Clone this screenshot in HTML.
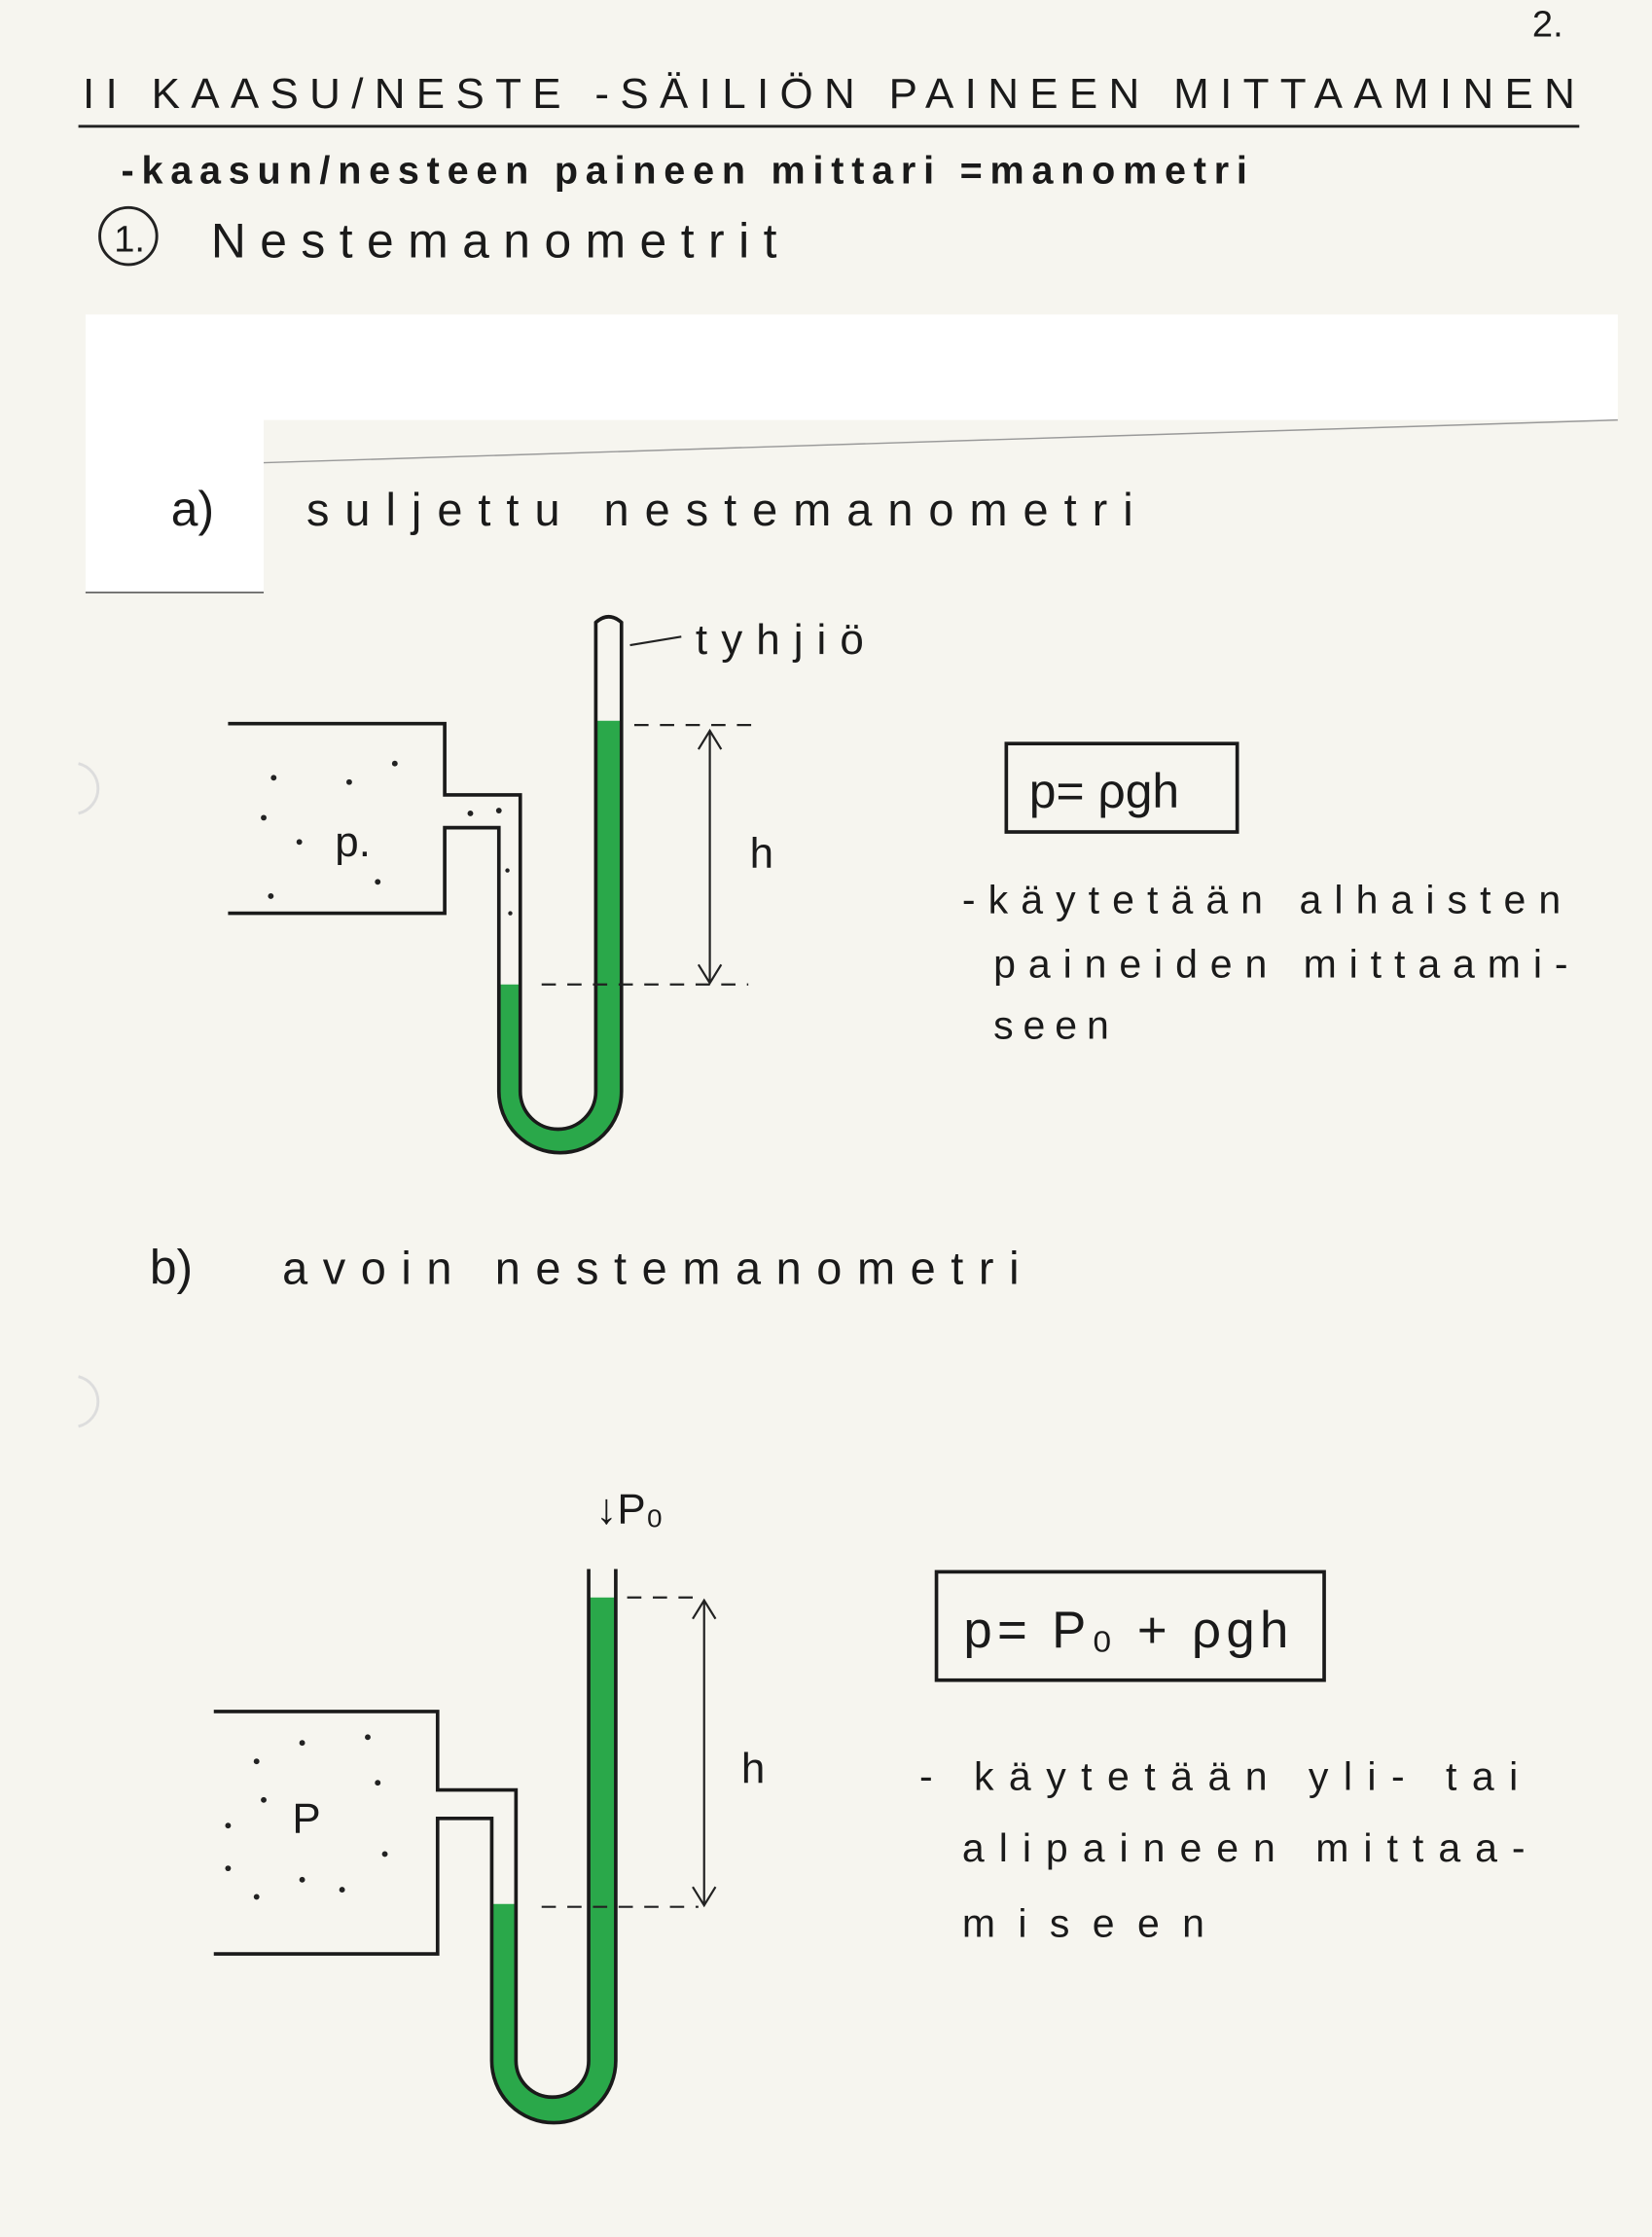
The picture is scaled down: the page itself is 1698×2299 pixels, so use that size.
<!DOCTYPE html>
<html><head><meta charset="utf-8"><style>
html,body{margin:0;padding:0;background:#f6f5ef;}
svg{display:block}
text{font-family:"Liberation Sans",sans-serif;fill:#1a1a1a}
</style></head><body>
<svg width="1698" height="2299" viewBox="0 0 1159 1568" xmlns="http://www.w3.org/2000/svg">
<rect width="1159" height="1568" fill="#f6f5ef"/>
<polygon points="60,220 1135,220 1135,294 185,294 185,415 60,415" fill="#ffffff"/>
<line x1="185" y1="324" x2="1135" y2="294" stroke="#999" stroke-width="1"/>
<line x1="60" y1="415" x2="185" y2="415" stroke="#666" stroke-width="1.2"/>
<text x="1075" y="25" font-size="26" fill="#222">2.</text>
<text x="58" y="75" font-size="30" textLength="1047" lengthAdjust="spacing">II KAASU/NESTE -SÄILIÖN PAINEEN MITTAAMINEN</text>
<line x1="55" y1="88" x2="1108" y2="88" stroke="#222" stroke-width="2"/>
<text x="85" y="128" font-size="27" font-weight="bold" textLength="790" lengthAdjust="spacing">-kaasun/nesteen paineen mittari =manometri</text>
<circle cx="90" cy="165" r="20" fill="none" stroke="#222" stroke-width="2"/>
<text x="80" y="176" font-size="26">1.</text>
<text x="148" y="180" font-size="34" textLength="397" lengthAdjust="spacing">Nestemanometrit</text>
<text x="120" y="368" font-size="34" fill="#223388">a)</text>
<text x="215" y="368" font-size="32" textLength="580" lengthAdjust="spacing">suljettu  nestemanometri</text>
<path d="M418,505 H436 V765 A43,43 0 0 1 350,765 V690 H365 V765 A26.5,26.5 0 0 0 418,765 Z" fill="#2aa84a"/>
<g fill="none" stroke="#1a1a1a" stroke-width="2.5">
<path d="M160,507 H312 V557 H365 V765 A26.5,26.5 0 0 0 418,765 V436 Q427,428 436,436 V765 A43,43 0 0 1 350,765 V580 H312 V640 H160"/>
</g>
<g stroke="#222" stroke-width="1.5" fill="none">
<line x1="442" y1="452" x2="478" y2="446"/>
<path d="M445,508 H530 M380,690 H525" stroke-dasharray="10,8"/>
<line x1="498" y1="512" x2="498" y2="688"/>
<path d="M490,525 L498,512 L506,525 M490,676 L498,689 L506,676"/>
</g>
<text x="488" y="458" font-size="30" textLength="118" lengthAdjust="spacing">tyhjiö</text>
<text x="526" y="608" font-size="30">h</text>
<text x="235" y="600" font-size="30">p.</text>
<g fill="#222"><circle cx="192" cy="545" r="2"/><circle cx="245" cy="548" r="2"/><circle cx="277" cy="535" r="2"/><circle cx="185" cy="573" r="2"/><circle cx="210" cy="590" r="2"/><circle cx="265" cy="618" r="2"/><circle cx="190" cy="628" r="2"/><circle cx="330" cy="570" r="2"/><circle cx="350" cy="568" r="2"/><circle cx="356" cy="610" r="1.5"/><circle cx="358" cy="640" r="1.5"/></g>
<rect x="706" y="521" width="162" height="62" fill="none" stroke="#1a1a1a" stroke-width="2.5"/>
<text x="722" y="566" font-size="34">p= ρgh</text>
<text x="675" y="640" font-size="28" textLength="420" lengthAdjust="spacing">-käytetään alhaisten</text>
<text x="697" y="685" font-size="28" textLength="403" lengthAdjust="spacing">paineiden mittaami-</text>
<text x="697" y="728" font-size="28" textLength="81" lengthAdjust="spacing">seen</text>
<text x="105" y="900" font-size="34" fill="#223388">b)</text>
<text x="198" y="900" font-size="32" textLength="517" lengthAdjust="spacing">avoin  nestemanometri</text>
<text x="418" y="1068" font-size="30">↓P₀</text>
<path d="M413,1120 H432 V1445 A43.5,43.5 0 0 1 345,1445 V1335 H362 V1445 A25.5,25.5 0 0 0 413,1445 Z" fill="#2aa84a"/>
<g fill="none" stroke="#1a1a1a" stroke-width="2.5">
<path d="M150,1200 H307 V1255 H362 V1445 A25.5,25.5 0 0 0 413,1445 V1100 M432,1100 V1445 A43.5,43.5 0 0 1 345,1445 V1275 H307 V1370 H150"/>
</g>
<g stroke="#222" stroke-width="1.5" fill="none">
<path d="M440,1120 H490 M380,1337 H490" stroke-dasharray="10,8"/>
<line x1="494" y1="1122" x2="494" y2="1335"/>
<path d="M486,1135 L494,1122 L502,1135 M486,1323 L494,1336 L502,1323"/>
</g>
<text x="520" y="1250" font-size="30">h</text>
<text x="205" y="1285" font-size="30">P</text>
<g fill="#222"><circle cx="180" cy="1235" r="2"/><circle cx="212" cy="1222" r="2"/><circle cx="258" cy="1218" r="2"/><circle cx="265" cy="1250" r="2"/><circle cx="160" cy="1280" r="2"/><circle cx="185" cy="1262" r="2"/><circle cx="270" cy="1300" r="2"/><circle cx="160" cy="1310" r="2"/><circle cx="212" cy="1318" r="2"/><circle cx="180" cy="1330" r="2"/><circle cx="240" cy="1325" r="2"/></g>
<rect x="657" y="1102" width="272" height="76" fill="none" stroke="#1a1a1a" stroke-width="2.5"/>
<text x="676" y="1155" font-size="36" textLength="228" lengthAdjust="spacing">p= P₀ + ρgh</text>
<text x="645" y="1255" font-size="28" textLength="420" lengthAdjust="spacing">- käytetään yli- tai</text>
<text x="675" y="1305" font-size="28" textLength="395" lengthAdjust="spacing">alipaineen mittaa-</text>
<text x="675" y="1358" font-size="28" textLength="170" lengthAdjust="spacing">miseen</text>
<path d="M55,535 A18,18 0 0 1 55,570" fill="none" stroke="#ddd" stroke-width="2"/>
<path d="M55,965 A18,18 0 0 1 55,1000" fill="none" stroke="#ddd" stroke-width="2"/>
</svg>
</body></html>
